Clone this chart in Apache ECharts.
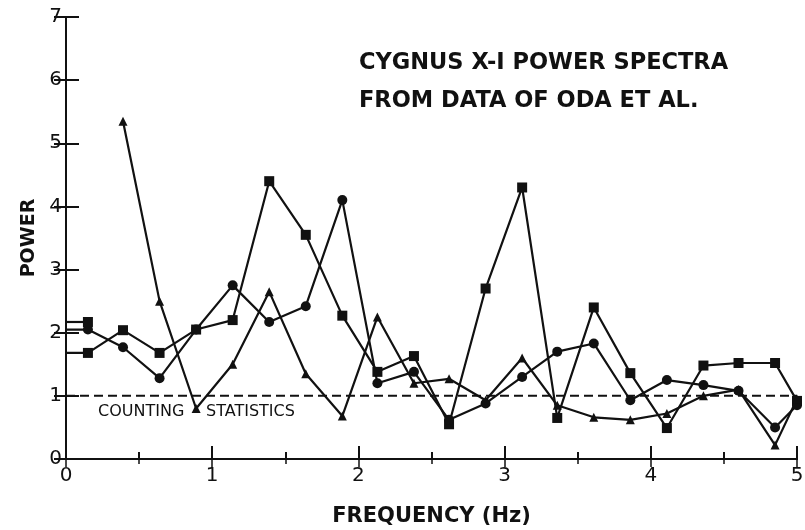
<!DOCTYPE html>
<html><head><meta charset="utf-8">
<script src="https://cdn.jsdelivr.net/npm/echarts@6/dist/echarts.min.js"></script>
<style>html,body{margin:0;padding:0;background:#fff}#c{width:805px;height:530px}</style>
</head><body><div id="c"></div>
<script>
// Frequencies (Hz); first entry 0 is the stub drawn from the axis
const freq = [0, 0.15, 0.39, 0.64, 0.89, 1.14, 1.39, 1.64, 1.89, 2.13, 2.38, 2.62, 2.87, 3.12, 3.36, 3.61, 3.86, 4.11, 4.36, 4.60, 4.85, 5.0];
const powerSquares   = [1.68, 1.68, 2.04, 1.68, 2.05, 2.20, 4.40, 3.55, 2.27, 1.38, 1.63, 0.55, 2.70, 4.30, 0.65, 2.40, 1.36, 0.49, 1.48, 1.52, 1.52, 0.92];
const powerCircles   = [2.05, 2.05, 1.77, 1.28, 2.05, 2.75, 2.17, 2.42, 4.10, 1.20, 1.38, 0.62, 0.88, 1.30, 1.70, 1.83, 0.93, 1.25, 1.17, 1.08, 0.50, 0.85];
const powerTriangles = [null, null, 5.35, 2.50, 0.80, 1.50, 2.65, 1.35, 0.68, 2.25, 1.20, 1.27, 0.93, 1.60, 0.85, 0.66, 0.62, 0.72, 1.00, 1.10, 0.22, 0.95];
const triangleStart  = [2.17, 2.17];
const countingStatistics = 1;
const titleLines = ['CYGNUS X-I POWER SPECTRA', 'FROM DATA OF ODA ET AL.'];
const xName = 'FREQUENCY (Hz)';
const yName = 'POWER';

const pairs = (ys) => freq.map((f, i) => [f, ys[i]]).filter(p => p[1] !== null && p[1] !== undefined);
const firstNone = (sym) => (v, p) => p.dataIndex === 0 ? 'none' : sym;

const ink = '#111';
const font = 'DejaVu Sans';
const lineSeries = (data, sym, size) => ({
  type: 'line', data, symbol: sym, symbolSize: size, showAllSymbol: true,
  lineStyle: { color: ink, width: 2.2 }, itemStyle: { color: ink }, animation: false, z: 3
});

const chart = echarts.init(document.getElementById('c'), null, { renderer: 'canvas' });
chart.setOption({
  animation: false,
  backgroundColor: '#fff',
  grid: { left: 66, right: 8, top: 17, bottom: 71, containLabel: false, outerBoundsMode: 'none' },
  xAxis: [{
    type: 'value', min: 0, max: 5, interval: 1, position: 'bottom',
    name: xName, nameLocation: 'middle', nameGap: 47,
    nameTextStyle: { fontFamily: font, fontWeight: 'bold', fontSize: 21, color: ink },
    axisLine: { show: true, lineStyle: { color: ink, width: 2 } },
    axisTick: { show: true, inside: true, length: 13, lineStyle: { color: ink, width: 2 } },
    minorTick: { show: true, splitNumber: 2, length: 7, lineStyle: { color: ink, width: 2 } },
    axisLabel: { fontFamily: font, fontSize: 20, color: ink, margin: 7 },
    splitLine: { show: false }
  }, {
    type: 'value', min: 0, max: 5, interval: 1, position: 'top',
    axisLine: { show: true, lineStyle: { color: ink, width: 2 } },
    axisTick: { show: true, inside: true, length: 8, lineStyle: { color: ink, width: 1.5 } },
    minorTick: { show: true, splitNumber: 2, length: 5, lineStyle: { color: ink, width: 1.5 } },
    axisLabel: { show: false }, splitLine: { show: false }
  }],
  yAxis: [{
    type: 'value', min: 0, max: 7, interval: 1, position: 'left',
    name: yName, nameLocation: 'middle', nameGap: 27, nameRotate: 90,
    nameTextStyle: { fontFamily: font, fontWeight: 'bold', fontSize: 19, color: ink },
    axisLine: { show: true, lineStyle: { color: ink, width: 2 } },
    axisTick: { show: true, inside: true, length: 13, lineStyle: { color: ink, width: 2 } },
    axisLabel: { fontFamily: font, fontSize: 20, color: ink, margin: 4 },
    splitLine: { show: false }
  }, {
    type: 'value', min: 0, max: 7, interval: 1, position: 'right',
    axisLine: { show: true, lineStyle: { color: ink, width: 2 } },
    axisTick: { show: true, inside: true, length: 12, lineStyle: { color: ink, width: 2 } },
    axisLabel: { show: false }, splitLine: { show: false }
  }],
  graphic: [
    { type: 'text', left: 359, top: 52, style: { text: titleLines[0], font: 'bold 22.5px "DejaVu Sans"', fill: ink } },
    { type: 'text', left: 359, top: 90, style: { text: titleLines[1], font: 'bold 22.5px "DejaVu Sans"', fill: ink } },
    { type: 'text', left: 98, top: 404, style: { text: 'COUNTING', font: '16px "DejaVu Sans"', fill: ink } },
    { type: 'text', left: 206, top: 404, style: { text: 'STATISTICS', font: '16px "DejaVu Sans"', fill: ink } }
  ],
  series: [
    {
      type: 'line', data: [[0, countingStatistics], [5, countingStatistics]], symbol: 'none',
      lineStyle: { color: ink, width: 2, type: [9, 5] }, z: 2, animation: false
    },
    lineSeries(pairs(powerSquares), firstNone('rect'), 10),
    lineSeries(pairs(powerCircles), firstNone('circle'), 10),
    lineSeries(pairs(powerTriangles), 'triangle', 9),
    lineSeries(freq.slice(0, 2).map((f, i) => [f, triangleStart[i]]), firstNone('rect'), 10)
  ]
});
</script>
</body></html>
